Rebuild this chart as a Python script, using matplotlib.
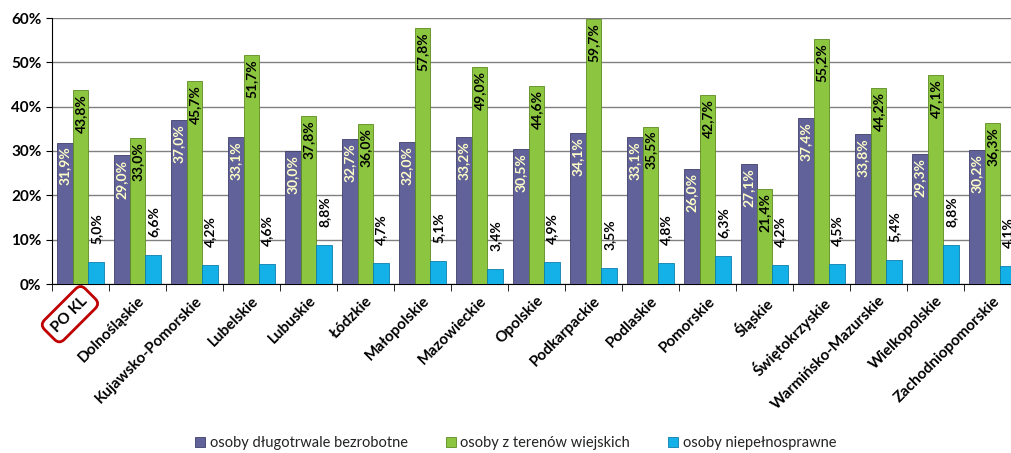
import numpy as np
import matplotlib.pyplot as plt
from matplotlib.ticker import FixedLocator, PercentFormatter

plt.rcParams["font.family"] = ["Lato", "DejaVu Sans"]

# ===================== dane =====================
regiony = ["PO KL", "Dolnośląskie", "Kujawsko-Pomorskie", "Lubelskie", "Lubuskie",
           "Łódzkie", "Małopolskie", "Mazowieckie", "Opolskie", "Podkarpackie",
           "Podlaskie", "Pomorskie", "Śląskie", "Świętokrzyskie",
           "Warmińsko-Mazurskie", "Wielkopolskie", "Zachodniopomorskie"]
bezrobotne = [31.9, 29.0, 37.0, 33.1, 30.0, 32.7, 32.0, 33.2, 30.5, 34.1,
              33.1, 26.0, 27.1, 37.4, 33.8, 29.3, 30.2]
wiejskie = [43.8, 33.0, 45.7, 51.7, 37.8, 36.0, 57.8, 49.0, 44.6, 59.7,
            35.5, 42.7, 21.4, 55.2, 44.2, 47.1, 36.3]
niepelnosprawne = [5.0, 6.6, 4.2, 4.6, 8.8, 4.7, 5.1, 3.4, 4.9, 3.5,
                   4.8, 6.3, 4.2, 4.5, 5.4, 8.8, 4.1]
serie = ["osoby długotrwale bezrobotne", "osoby z terenów wiejskich",
         "osoby niepełnosprawne"]

# ===================== wykres =====================
fig = plt.figure(figsize=(10.11, 4.53), dpi=100)
ax = fig.add_axes([52 / 1011, 169 / 453, 969 / 1011, 266 / 453])

x = np.arange(len(regiony))
w = 0.28

ax.bar(x - w, bezrobotne, w, color="#62629A", edgecolor="#3E3E6A", lw=0.6,
       label=serie[0], zorder=3)
ax.bar(x, wiejskie, w, color="#8CC641", edgecolor="#5C8A22", lw=0.6,
       label=serie[1], zorder=3)
ax.bar(x + w, niepelnosprawne, w, color="#14B1E8", edgecolor="#0B7FAA", lw=0.6,
       label=serie[2], zorder=3)

def fmt(v):
    return f"{v:.1f}%".replace(".", ",")

for xi, v in zip(x - w, bezrobotne):
    ax.annotate(fmt(v), (xi, v), xytext=(0, -3), textcoords="offset points",
                rotation=90, ha="center", va="top", fontsize=10, fontweight="bold",
                color="#FFFFC8", zorder=4)
for xi, v in zip(x, wiejskie):
    ax.annotate(fmt(v), (xi, v), xytext=(0, -3), textcoords="offset points",
                rotation=90, ha="center", va="top", fontsize=10, fontweight="bold",
                color="black", zorder=4)
# etykiety nad niebieskimi slupkami (ostatnia ucieta przy krawedzi jak w oryginale)
for xi, v in zip(x + w, niepelnosprawne):
    ax.annotate(fmt(v), (xi, v), xytext=(0, 13), textcoords="offset points",
                rotation=90, ha="center", va="bottom", fontsize=10, fontweight="bold",
                color="black", zorder=4, annotation_clip=False)

ax.set_xlim(-0.5, len(regiony) - 0.5)
ax.set_ylim(0, 60)
ax.yaxis.set_major_locator(FixedLocator(range(0, 61, 10)))
ax.yaxis.set_major_formatter(PercentFormatter(decimals=0))
ax.grid(axis="y", color="#808080", lw=1, zorder=0)
ax.set_axisbelow(True)

for s in ["top", "right"]:
    ax.spines[s].set_visible(False)
ax.spines["left"].set_color("black")
ax.spines["bottom"].set_color("black")

ax.set_xticks(x)
ax.set_xticklabels(regiony, rotation=45, ha="right", rotation_mode="anchor",
                   fontsize=11, fontweight="bold")
ax.tick_params(axis="x", which="major", length=0, pad=7)
ax.xaxis.set_minor_locator(FixedLocator(np.arange(-0.5, len(regiony), 1)))
ax.tick_params(axis="x", which="minor", length=5, color="black")
ax.tick_params(axis="y", length=4, labelsize=11)
for t in ax.get_yticklabels():
    t.set_fontweight("bold")

# ramka wokol PO KL
ax.get_xticklabels()[0].set_bbox(dict(boxstyle="round,pad=0.45,rounding_size=0.45",
                                      fc="white", ec="#C00000", lw=2))

fig.legend(loc="center", bbox_to_anchor=(0.51, 0.022), ncol=3, frameon=False,
           fontsize=10.5, handlelength=0.7, handleheight=0.7, handletextpad=0.3,
           columnspacing=2.6, labelcolor="#222222")

fig.savefig("out.png", dpi=100)
